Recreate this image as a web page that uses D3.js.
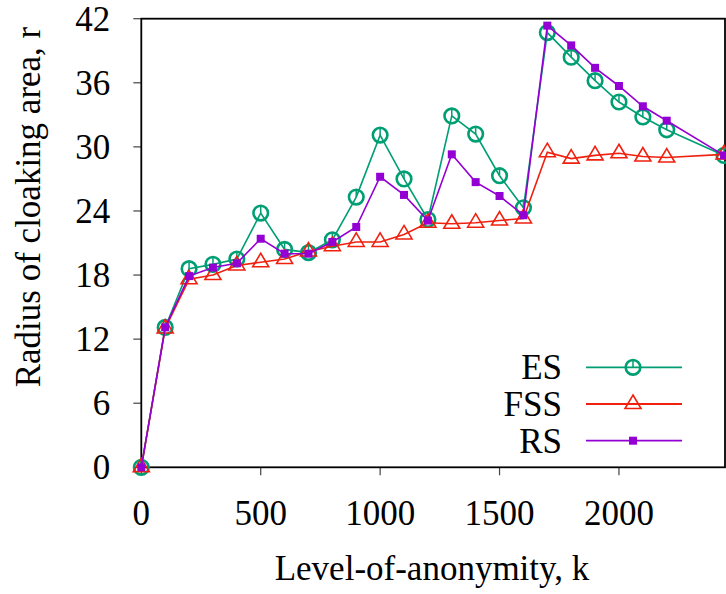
<!DOCTYPE html>
<html lang="en">
<head>
<meta charset="UTF-8">
<script src="https://cdn.jsdelivr.net/npm/d3@7/dist/d3.min.js"></script>
</head>
<body style="margin:0">
<svg id="main" width="726" height="594"></svg>
<script>
    // values
    const kValues = [0, 100, 200, 300, 400, 500, 600, 700, 800, 900, 1000, 1100, 1200,
        1300, 1400, 1500, 1600, 1700, 1800, 1900, 2000, 2100, 2200, 2440];
    const esValues = [0, 13.1, 18.6, 19.0, 19.5, 23.8, 20.4, 20.1, 21.3, 25.3, 31.1, 27.0, 23.2,
        32.9, 31.2, 27.3, 24.3, 40.7, 38.4, 36.2, 34.2, 32.8, 31.6, 29.2];
    const fssValues = [0, 13.0, 17.6, 18.0, 18.9, 19.2, 19.5, 20.2, 20.7, 21.1, 21.1, 21.8, 22.9,
        22.8, 22.9, 23.1, 23.3, 29.5, 28.9, 29.2, 29.4, 29.1, 29.0, 29.3];
    const rsValues = [0, 13.1, 17.9, 18.7, 19.1, 21.4, 20.0, 20.0, 21.1, 22.5, 27.2, 25.5, 23.1,
        29.3, 26.7, 25.4, 23.6, 41.35, 39.5, 37.4, 35.7, 33.8, 32.45, 29.2];
    const seriesNames = ['ES', 'FSS', 'RS'];
    const xTicks = [0, 500, 1000, 1500, 2000];
    const yTicks = [0, 6, 12, 18, 24, 30, 36, 42];

    const colors = {ES: '#009e73', FSS: '#f0200f', RS: '#9400d3'};
    const series = [
        {name: 'ES', values: esValues},
        {name: 'FSS', values: fssValues},
        {name: 'RS', values: rsValues}
    ];

    let svg = d3.select('svg#main');
    let plotLeft = 141.3, plotRight = 725, plotTop = 18.7, plotBottom = 467.3;

    let xScale = d3.scaleLinear().domain([0, 2444]).range([plotLeft, plotRight]);
    let yScale = d3.scaleLinear().domain([0, 42]).range([plotBottom, plotTop]);

    function serifText(sel) {
        return sel.style('font-family', 'Times New Roman')
            .style('font-size', '35px');
    }

    // axes, drawn from the scales
    let axes = svg.append('g');
    xTicks.forEach(t => {
        axes.append('line')
            .attr('x1', xScale(t)).attr('x2', xScale(t))
            .attr('y1', plotBottom).attr('y2', plotBottom + 8)
            .attr('stroke', '#444').attr('stroke-width', 1.2);
        serifText(axes.append('text')
            .attr('x', xScale(t)).attr('y', plotBottom + 58)
            .attr('text-anchor', 'middle'))
            .text(t);
    });
    yTicks.forEach(t => {
        axes.append('line')
            .attr('x1', plotLeft - 8).attr('x2', plotLeft)
            .attr('y1', yScale(t)).attr('y2', yScale(t))
            .attr('stroke', '#444').attr('stroke-width', 1.2);
        serifText(axes.append('text')
            .attr('x', plotLeft - 31).attr('y', yScale(t) + 12)
            .attr('text-anchor', 'end'))
            .text(t);
    });

    // frame
    svg.append('rect')
        .attr('x', plotLeft).attr('y', plotTop)
        .attr('width', plotRight - plotLeft).attr('height', plotBottom - plotTop)
        .attr('fill', 'none').attr('stroke', '#000').attr('stroke-width', 1.8);

    // axis titles
    serifText(svg.append('text')
        .attr('x', 432).attr('y', 580)
        .attr('text-anchor', 'middle'))
        .text('Level-of-anonymity, k');
    serifText(svg.append('text')
        .attr('transform', 'translate(40,207) rotate(-90)')
        .attr('text-anchor', 'middle'))
        .text('Radius of cloaking area, r');

    function drawMarker(g, name, x, y) {
        let c = colors[name];
        if (name === 'ES') {
            g.append('circle').attr('cx', x).attr('cy', y).attr('r', 7.3)
                .attr('fill', 'none').attr('stroke', c).attr('stroke-width', 2.6);
            g.append('line').attr('x1', x).attr('x2', x).attr('y1', y).attr('y2', y - 7.3)
                .attr('stroke', c).attr('stroke-width', 1.5);
        } else if (name === 'FSS') {
            g.append('path')
                .attr('d', 'M' + x + ',' + (y - 9) + 'L' + (x + 8) + ',' + (y + 4.5) + 'L' + (x - 8) + ',' + (y + 4.5) + 'Z')
                .attr('fill', 'none').attr('stroke', c).attr('stroke-width', 1.6);
        } else {
            g.append('rect').attr('x', x - 4).attr('y', y - 4).attr('width', 8).attr('height', 8)
                .attr('fill', c);
        }
    }

    let line = d3.line()
        .x((d, i) => xScale(kValues[i]))
        .y(d => yScale(d));

    let plot = svg.append('g');
    series.forEach(s => {
        let g = plot.append('g');
        g.append('path')
            .attr('d', line(s.values))
            .attr('fill', 'none')
            .attr('stroke', colors[s.name])
            .attr('stroke-width', 1.6);
        s.values.forEach((v, i) => drawMarker(g, s.name, xScale(kValues[i]), yScale(v)));
    });

    // legend
    let legendY = [367.3, 404, 440.7];
    seriesNames.forEach((name, i) => {
        let g = svg.append('g');
        serifText(g.append('text')
            .attr('x', 562).attr('y', legendY[i] + 12)
            .attr('text-anchor', 'end'))
            .text(name);
        g.append('line')
            .attr('x1', 586).attr('x2', 682)
            .attr('y1', legendY[i]).attr('y2', legendY[i])
            .attr('stroke', colors[name]).attr('stroke-width', 1.8);
        drawMarker(g, name, 633, legendY[i]);
    });
</script>
</body>
</html>
